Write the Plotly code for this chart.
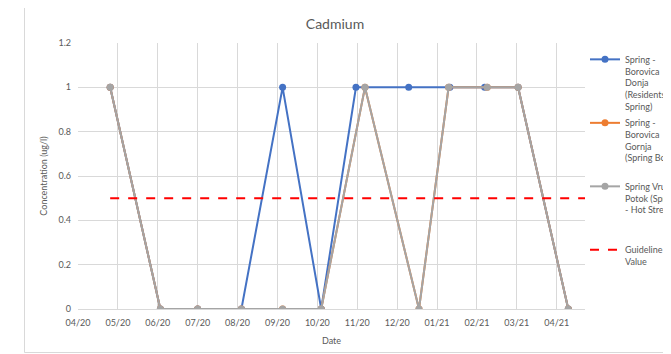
import plotly.graph_objects as go

# sample dates and values (ug/l)
donja_dates = ["2020-04-26", "2020-06-04", "2020-07-03", "2020-08-06", "2020-09-07", "2020-10-07",
               "2020-11-03", "2020-12-14", "2021-01-15", "2021-02-11", "2021-03-09", "2021-04-17"]
donja_vals = [1, 0, 0, 0, 1, 0, 1, 1, 1, 1, 1, 0]

gornja_dates = ["2020-04-26", "2020-06-04", "2020-07-03", "2020-08-06", "2020-09-07", "2020-10-07",
                "2020-11-10", "2020-12-22", "2021-01-14", "2021-02-13", "2021-03-09", "2021-04-17"]
gornja_vals = [1, 0, 0, 0, 0, 0, 1, 0, 1, 1, 1, 0]

vruci_dates = ["2020-04-26", "2020-06-04", "2020-07-03", "2020-08-06", "2020-09-07", "2020-10-07",
               "2020-11-10", "2020-12-22", "2021-01-14", "2021-02-13", "2021-03-09", "2021-04-17"]
vruci_vals = [1, 0, 0, 0, 0, 0, 1, 0, 1, 1, 1, 0]

guide_dates = ["2020-04-26", "2021-04-30"]
guide_vals = [0.5, 0.5]

tick_dates = ["2020-04-01", "2020-05-02", "2020-06-02", "2020-07-03", "2020-08-03", "2020-09-03",
              "2020-10-04", "2020-11-04", "2020-12-05", "2021-01-05", "2021-02-05", "2021-03-08",
              "2021-04-08"]
tick_labels = ["04/20", "05/20", "06/20", "07/20", "08/20", "09/20", "10/20", "11/20", "12/20",
               "01/21", "02/21", "03/21", "04/21"]

FONT = "Lato"
TXT = "#595959"
GRID = "#D9D9D9"

# the page puts the figure 8px in from the top-left corner, so the figure is 8px smaller
W, H = 663, 346
OFF = 8

fig = go.Figure()

fig.add_trace(go.Scatter(x=donja_dates, y=donja_vals, mode="lines+markers", legendgroup="a",
                         name="Spring -<br>Borovica<br>Donja<br>(Residents<br>Spring)",
                         line=dict(color="#4472C4", width=2), marker=dict(size=7)))
fig.add_trace(go.Scatter(x=gornja_dates, y=gornja_vals, mode="lines+markers", legendgroup="b",
                         name="Spring -<br>Borovica<br>Gornja<br>(Spring Box)<br> ",
                         line=dict(color="#ED7D31", width=2), marker=dict(size=7)))
fig.add_trace(go.Scatter(x=vruci_dates, y=vruci_vals, mode="lines+markers", legendgroup="c",
                         name="Spring Vruci<br>Potok (Spring<br>- Hot Stream)<br> <br> ",
                         line=dict(color="#A5A5A5", width=2), marker=dict(size=7)))
fig.add_trace(go.Scatter(x=guide_dates, y=guide_vals, mode="lines", legendgroup="d",
                         name="Guideline<br>Value",
                         line=dict(color="#FF0000", width=2, dash="dash")))

# plot area in page pixels: x 78..585, y 43..309
def px_x(p):
    return (p - 78) / 507

def px_y(p):
    return (309 - p) / 266

shapes = [
    dict(type="rect", xref="paper", yref="paper", x0=px_x(24.5), x1=px_x(700), y0=px_y(352.5), y1=px_y(6.5),
         line=dict(color=GRID, width=1), layer="below"),
]

fig.update_layout(
    width=W, height=H,
    margin=dict(l=78 - OFF, r=W - (585 - OFF), t=43 - OFF, b=H - (309 - OFF), autoexpand=False),
    paper_bgcolor="white", plot_bgcolor="white",
    font=dict(family=FONT, color=TXT, size=9),
    title=dict(text="Cadmium", x=(335 - OFF) / W, xanchor="center", y=1 - (24 - OFF) / H, yanchor="middle",
               font=dict(size=14, color=TXT, family=FONT)),
    showlegend=True,
    legend=dict(x=px_x(585), xanchor="left", y=px_y(47), yanchor="top", valign="top",
                font=dict(size=9, color=TXT, family=FONT), bgcolor="rgba(0,0,0,0)",
                tracegroupgap=2, itemclick=False),
    shapes=shapes,
)

fig.update_xaxes(type="date", range=["2020-04-01", "2021-04-30"], tickvals=tick_dates, ticktext=tick_labels,
                 showgrid=True, gridcolor=GRID, gridwidth=1, showline=True, linecolor=GRID,
                 zeroline=False, ticks="", ticklabelstandoff=5, tickfont=dict(size=9, color=TXT),
                 title=dict(text="Date", font=dict(size=9, color=TXT), standoff=10))
fig.update_yaxes(range=[0, 1.2], dtick=0.2, tickformat="~g", showgrid=True, gridcolor=GRID, gridwidth=1,
                 zeroline=False, showline=False, ticks="", ticklabelstandoff=6,
                 tickfont=dict(size=9, color=TXT),
                 title=dict(text="Concentration (ug/l)", font=dict(size=9, color=TXT), standoff=9))

fig.write_html("out.html")
